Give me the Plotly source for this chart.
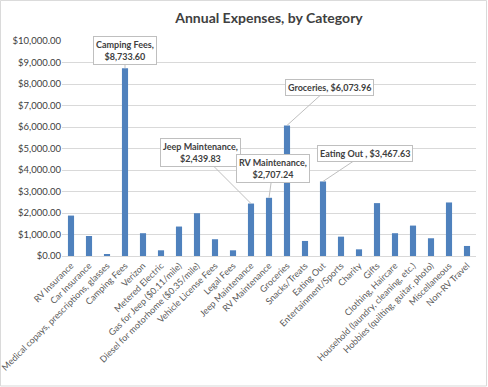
import plotly.graph_objects as go

categories = [
    "RV Insurance", "Car Insurance", "Medical copays, prescriptions, glasses",
    "Camping Fees", "Verizon", "Metered Electric", "Gas for Jeep ($0.11/mile)",
    "Diesel for motorhome ($0.35/mile)", "Vehicle License Fees", "Legal Fees",
    "Jeep Maintenance", "RV Maintenance", "Groceries", "Snacks/Treats",
    "Eating Out", "Entertainment/Sports", "Charity", "Gifts", "Clothing, Haircare",
    "Household (laundry, cleaning, etc.)", "Hobbies (quilting, guitar, photo)",
    "Miscellaneous", "Non-RV Travel",
]
values = [
    1880, 930, 80, 8733.60, 1060, 265, 1370, 1990, 780, 265,
    2439.83, 2707.24, 6073.96, 700, 3467.63, 900, 310, 2460, 1060,
    1415, 825, 2490, 467,
]

# callouts: category, label text, offset of box (px)
callout_cats = ["Camping Fees", "Jeep Maintenance", "RV Maintenance", "Groceries", "Eating Out"]
callout_texts = [
    "Camping Fees,<br>$8,733.60",
    "Jeep Maintenance,<br>$2,439.83",
    "RV Maintenance,<br>$2,707.24",
    "Groceries, $6,073.96",
    "Eating Out , $3,467.63",
]
callout_ax = [0, -51, 4, 42, 42]
callout_ay = [-18, -51, -29, -38, -28]

FONT = "Lato, 'Open Sans', sans-serif"

fig = go.Figure(go.Bar(
    x=categories, y=values, marker=dict(color="#4f81bd", line=dict(width=0)),
))

for cat, txt, ax, ay in zip(callout_cats, callout_texts, callout_ax, callout_ay):
    v = values[categories.index(cat)]
    fig.add_annotation(
        x=cat, y=v, text="<b>" + txt + "</b>", showarrow=True, arrowhead=0,
        arrowwidth=1, arrowcolor="#bfbfbf", ax=ax, ay=ay,
        bgcolor="white", bordercolor="#bfbfbf", borderwidth=1, borderpad=2,
        font=dict(family=FONT, size=9, color="#404040"), align="center",
    )

fig.add_shape(type="rect", xref="paper", yref="paper",
              x0=-0.1486, x1=1.0254, y0=-0.6046, y1=1.1886,
              line=dict(color="#d9d9d9", width=1), layer="below")

fig.update_layout(
    width=488, height=387,
    margin=dict(l=62, r=12, t=41, b=131, autoexpand=False),
    paper_bgcolor="white", plot_bgcolor="white",
    title=dict(text="<b>Annual Expenses, by Category</b>", x=0.5, xanchor="center",
               y=0.953, yanchor="middle", xref="paper",
               font=dict(family=FONT, size=14, color="#404040")),
    bargap=0.66, showlegend=False,
    xaxis=dict(tickangle=-45, tickfont=dict(family=FONT, size=9, color="#595959"),
               showline=True, linecolor="#d9d9d9", linewidth=1, ticks="",
               showgrid=False, automargin=False),
    yaxis=dict(range=[0, 10000], dtick=1000, tickformat="$,.2f",
               tickfont=dict(family=FONT, size=9.5, color="#404040"),
               gridcolor="#d9d9d9", gridwidth=1, zeroline=False, ticks="",
               showline=False, automargin=False),
)

fig.write_html("out.html", config={"displayModeBar": False},
               post_script="document.body.style.margin='0';")
